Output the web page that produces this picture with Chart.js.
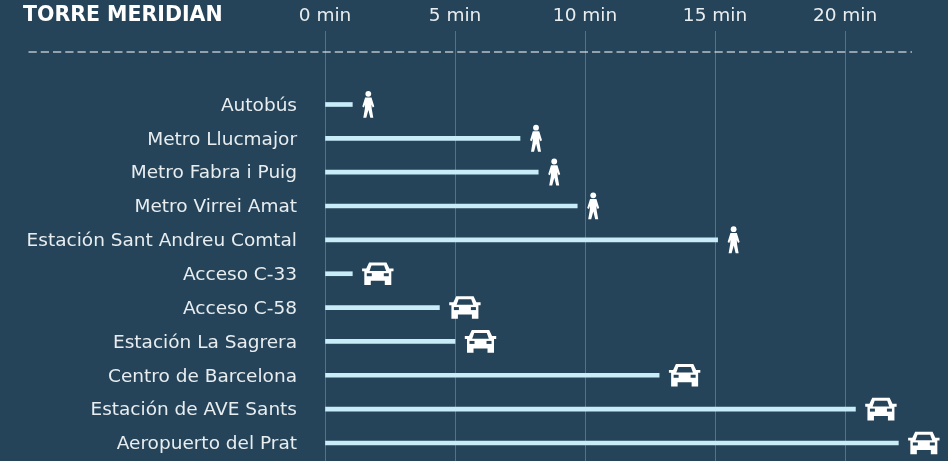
<!DOCTYPE html>
<html>
<head>
<meta charset="utf-8">
<style>
  html, body { margin: 0; padding: 0; background: #264459; overflow: hidden; }
  #wrap { width: 948px; height: 461px; }
</style>
</head>
<body>
<div id="wrap"><canvas id="chart"></canvas></div>
<script src="https://cdn.jsdelivr.net/npm/chart.js@4"></script>
<script>
const chartTitle = "TORRE MERIDIAN";
const places = [
  "Autobús", "Metro Llucmajor", "Metro Fabra i Puig", "Metro Virrei Amat",
  "Estación Sant Andreu Comtal", "Acceso C-33", "Acceso C-58",
  "Estación La Sagrera", "Centro de Barcelona", "Estación de AVE Sants",
  "Aeropuerto del Prat",
];
const minutes = [1.05, 7.5, 8.2, 9.7, 15.1, 1.05, 4.4, 5, 12.85, 20.4, 22.05];
const modes = ["walk", "walk", "walk", "walk", "walk", "car", "car", "car", "car", "car", "car"];
const tickMinutes = [0, 5, 10, 15, 20];

const fontFamily = "'DejaVu Sans', sans-serif";

function drawWalker(ctx, x, y) {
  ctx.save();
  ctx.translate(x, y);
  ctx.fillStyle = "#ffffff";
  ctx.beginPath();
  ctx.arc(0, -10.7, 2.9, 0, Math.PI * 2);
  ctx.fill();
  ctx.beginPath();
  ctx.moveTo(-3.2, -7);
  ctx.lineTo(3.2, -7);
  ctx.lineTo(6, 2);
  ctx.lineTo(4.4, 3);
  ctx.lineTo(3.2, 0);
  ctx.lineTo(3.4, 4);
  ctx.lineTo(5, 13.3);
  ctx.lineTo(2, 13.3);
  ctx.lineTo(0.1, 5.5);
  ctx.lineTo(-2, 13.3);
  ctx.lineTo(-5, 13.3);
  ctx.lineTo(-3.4, 4);
  ctx.lineTo(-3.2, 0);
  ctx.lineTo(-4.4, 3);
  ctx.lineTo(-6, 2);
  ctx.closePath();
  ctx.fill();
  ctx.restore();
}

function drawCar(ctx, x, y) {
  ctx.save();
  ctx.translate(x, y);
  ctx.fillStyle = "#ffffff";
  ctx.beginPath();
  // roof and body
  ctx.moveTo(-8.7, -11.3);
  ctx.lineTo(8.7, -11.3);
  ctx.lineTo(11.5, -5.3);
  ctx.lineTo(15.7, -5.3);
  ctx.lineTo(15.7, -2.4);
  ctx.lineTo(13.5, -2.4);
  ctx.lineTo(13.5, 11.3);
  ctx.lineTo(7, 11.3);
  ctx.lineTo(7, 7);
  ctx.lineTo(-7, 7);
  ctx.lineTo(-7, 11.3);
  ctx.lineTo(-13.5, 11.3);
  ctx.lineTo(-13.5, -2.4);
  ctx.lineTo(-15.7, -2.4);
  ctx.lineTo(-15.7, -5.3);
  ctx.lineTo(-11.5, -5.3);
  ctx.closePath();
  ctx.fill();
  // windscreen and headlights
  ctx.fillStyle = "#264459";
  ctx.beginPath();
  ctx.moveTo(-6.3, -8.3);
  ctx.lineTo(6.3, -8.3);
  ctx.lineTo(8.3, -2.7);
  ctx.lineTo(-8.3, -2.7);
  ctx.closePath();
  ctx.fill();
  ctx.fillRect(-11, -0.5, 5, 3);
  ctx.fillRect(6, -0.5, 5, 3);
  ctx.restore();
}

const decorPlugin = {
  id: "decor",
  afterDraw(chart) {
    const ctx = chart.ctx;
    // title
    ctx.save();
    ctx.fillStyle = "#ffffff";
    ctx.font = "bold 20.5px " + fontFamily;
    ctx.textBaseline = "middle";
    ctx.textAlign = "left";
    ctx.fillText(chartTitle, 23, 16);
    // dashed rule
    ctx.strokeStyle = "#ffffff";
    ctx.lineWidth = 1;
    ctx.setLineDash([8.25, 4]);
    ctx.beginPath();
    ctx.moveTo(28.5, 52);
    ctx.lineTo(912, 52);
    ctx.stroke();
    ctx.restore();
  },
  afterDatasetsDraw(chart) {
    // icon sits just past the end of each bar
    chart.getDatasetMeta(0).data.forEach((bar, i) => {
      if (modes[i] === "walk") drawWalker(chart.ctx, bar.x + 16, bar.y);
      else drawCar(chart.ctx, bar.x + 25.5, bar.y);
    });
  },
};

new Chart(document.getElementById("chart"), {
  type: "bar",
  data: {
    datasets: [
      {
        data: minutes.map((m, i) => ({ x: m, y: i })),
        backgroundColor: "#c8ecf8",
        barThickness: 4,
      },
    ],
  },
  options: {
    indexAxis: "y",
    responsive: true,
    maintainAspectRatio: false,
    animation: false,
    layout: { padding: 0 },
    plugins: { legend: { display: false }, tooltip: { enabled: false } },
    scales: {
      x: {
        type: "linear",
        position: "top",
        min: 0,
        max: 23.96,
        afterFit(scale) { scale.height = 31; },
        afterBuildTicks(scale) { scale.ticks = tickMinutes.map((v) => ({ value: v })); },
        grid: { color: "#5a7080", lineWidth: 1, drawTicks: false },
        border: { display: false },
        ticks: {
          color: "#e8edf0",
          font: { family: fontFamily, size: 18.5 },
          padding: 4,
          maxRotation: 0,
          callback: (v) => v + " min",
        },
      },
      y: {
        type: "linear",
        reverse: true,
        offset: false,
        min: -2.171,
        max: 10.53,
        afterFit(scale) { scale.width = 325; },
        afterBuildTicks(scale) { scale.ticks = places.map((p, i) => ({ value: i })); },
        // gap to the labels comes from tickLength, padding would shrink the scale
        grid: { display: false, tickLength: 28 },
        border: { display: false },
        ticks: {
          color: "#e8edf0",
          font: { family: fontFamily, size: 18.5, lineHeight: 0.01 },
          padding: 0,
          labelOffset: 1.5,
          autoSkip: false,
          callback: (v) => places[v],
        },
      },
    },
  },
  plugins: [decorPlugin],
});
</script>
</body>
</html>
